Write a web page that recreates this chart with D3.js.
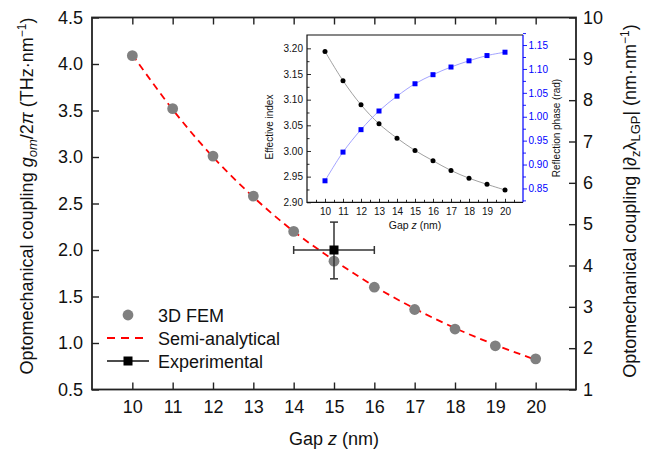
<!DOCTYPE html>
<html>
<head>
<meta charset="utf-8">
<script src="https://cdn.jsdelivr.net/npm/d3@7"></script>
<style>
  body { margin: 0; background: #fff; }
  svg { font-family: "Liberation Sans", Arial, Helvetica, sans-serif; }
</style>
</head>
<body>
<div id="chart"></div>
<script>
// main plot data
const gaps = [10, 11, 12, 13, 14, 15, 16, 17, 18, 19, 20];
const femValues = [4.09, 3.52, 3.01, 2.58, 2.20, 1.88, 1.60, 1.36, 1.15, 0.97, 0.83];
const semiValues = [4.10, 3.51, 3.00, 2.57, 2.20, 1.89, 1.61, 1.37, 1.16, 0.98, 0.82];
const expPoint = { x: 15, y: 2.0, xErr: 1.0, yLow: 1.69, yHigh: 2.30 };
const mainXTicks = [10, 11, 12, 13, 14, 15, 16, 17, 18, 19, 20];
const leftYTicks = [0.5, 1.0, 1.5, 2.0, 2.5, 3.0, 3.5, 4.0, 4.5];
const rightYTicks = [1, 2, 3, 4, 5, 6, 7, 8, 9, 10];

// inset data
const effIndex = [3.194, 3.137, 3.090, 3.053, 3.025, 3.001, 2.981, 2.962, 2.947, 2.935, 2.924];
const reflPhase = [0.866, 0.926, 0.973, 1.012, 1.043, 1.069, 1.088, 1.104, 1.117, 1.128, 1.135];
const insetLeftTicks = [2.90, 2.95, 3.00, 3.05, 3.10, 3.15, 3.20];
const insetRightTicks = [0.85, 0.90, 0.95, 1.00, 1.05, 1.10, 1.15];

const W = 653, H = 451;
const svg = d3.select("#chart").append("svg")
    .attr("width", W)
    .attr("height", H);

// ---------- main plot ----------
const x = d3.scaleLinear().domain([9, 21]).range([92, 576]);
const yL = d3.scaleLinear().domain([0.5, 4.5]).range([389.5, 17.5]);
const yR = d3.scaleLinear().domain([1, 10]).range([389.5, 17.5]);
const axisColor = "#222";
const tickFont = 18;

const gMain = svg.append("g");

gMain.append("g")
    .attr("class", "axis")
    .attr("transform", "translate(0," + yL.range()[0] + ")")
    .call(d3.axisBottom(x).tickValues(mainXTicks).tickSizeInner(-7).tickSizeOuter(0).tickPadding(11).tickFormat(d3.format("d")));
gMain.append("g")
    .attr("class", "axis")
    .attr("transform", "translate(0," + yL.range()[1] + ")")
    .call(d3.axisTop(x).tickValues(mainXTicks).tickSizeInner(-7).tickSizeOuter(0).tickFormat(""));
gMain.append("g")
    .attr("class", "axis")
    .attr("transform", "translate(" + x.range()[0] + ",0)")
    .call(d3.axisLeft(yL).tickValues(leftYTicks).tickSizeInner(-7).tickSizeOuter(0).tickPadding(9).tickFormat(d3.format(".1f")));
gMain.append("g")
    .attr("class", "axis")
    .attr("transform", "translate(" + x.range()[1] + ",0)")
    .call(d3.axisRight(yR).tickValues(rightYTicks).tickSizeInner(-7).tickSizeOuter(0).tickPadding(7).tickFormat(d3.format("d")));

gMain.selectAll(".axis path").remove();
gMain.selectAll(".axis line").attr("stroke", axisColor).attr("stroke-width", 1.4);
gMain.selectAll(".axis text").attr("font-size", tickFont).attr("fill", "#111");

gMain.append("rect")
    .attr("x", x.range()[0])
    .attr("y", yL.range()[1])
    .attr("width", x.range()[1] - x.range()[0])
    .attr("height", yL.range()[0] - yL.range()[1])
    .attr("fill", "none")
    .attr("stroke", axisColor)
    .attr("stroke-width", 1.8);

// axis titles
const xTitle = gMain.append("text")
    .attr("x", (x.range()[0] + x.range()[1]) / 2)
    .attr("y", 445)
    .attr("text-anchor", "middle")
    .attr("font-size", 18)
    .attr("fill", "#111");
xTitle.append("tspan").text("Gap ");
xTitle.append("tspan").attr("font-style", "italic").text("z");
xTitle.append("tspan").text(" (nm)");

const lTitle = gMain.append("text")
    .attr("transform", "translate(33,196) rotate(-90)")
    .attr("text-anchor", "middle")
    .attr("font-size", 18)
    .attr("fill", "#111");
lTitle.append("tspan").text("Optomechanical coupling ");
lTitle.append("tspan").attr("font-style", "italic").text("g");
lTitle.append("tspan").attr("font-style", "italic").attr("font-size", 13).attr("dy", 4).text("om");
lTitle.append("tspan").attr("dy", -4).text("/2");
lTitle.append("tspan").attr("font-style", "italic").text("π");
lTitle.append("tspan").text(" (THz·nm");
lTitle.append("tspan").attr("font-size", 12).attr("dy", -7).text("−1");
lTitle.append("tspan").attr("dy", 7).text(")");

const rTitle = gMain.append("text")
    .attr("transform", "translate(636,201) rotate(-90)")
    .attr("text-anchor", "middle")
    .attr("font-size", 18)
    .attr("fill", "#111");
rTitle.append("tspan").text("Optomechanical coupling |∂");
rTitle.append("tspan").attr("font-size", 13).attr("dy", 4).text("z");
rTitle.append("tspan").attr("dy", -4).text("λ");
rTitle.append("tspan").attr("font-size", 13).attr("dy", 4).text("LGP");
rTitle.append("tspan").attr("dy", -4).text("| (nm·nm");
rTitle.append("tspan").attr("font-size", 12).attr("dy", -7).text("−1");
rTitle.append("tspan").attr("dy", 7).text(")");

// semi-analytical dashed curve
const semiLine = d3.line()
    .x((d, i) => x(gaps[i]))
    .y(d => yL(d))
    .curve(d3.curveCatmullRom);
gMain.append("path")
    .datum(semiValues)
    .attr("d", semiLine)
    .attr("fill", "none")
    .attr("stroke", "#ff0000")
    .attr("stroke-width", 1.8)
    .attr("stroke-dasharray", "7,5");

// 3D FEM points
gMain.selectAll(".fem")
    .data(femValues)
    .enter()
    .append("circle")
    .attr("class", "fem")
    .attr("cx", (d, i) => x(gaps[i]))
    .attr("cy", d => yL(d))
    .attr("r", 5.4)
    .attr("fill", "#808080");

// experimental point with error bars
const eb = gMain.append("g").attr("stroke", "#333").attr("stroke-width", 1.5);
eb.append("line")
    .attr("x1", x(expPoint.x - expPoint.xErr)).attr("x2", x(expPoint.x + expPoint.xErr))
    .attr("y1", yL(expPoint.y)).attr("y2", yL(expPoint.y));
eb.append("line")
    .attr("x1", x(expPoint.x)).attr("x2", x(expPoint.x))
    .attr("y1", yL(expPoint.yLow)).attr("y2", yL(expPoint.yHigh));
[expPoint.x - expPoint.xErr, expPoint.x + expPoint.xErr].forEach(v => {
    eb.append("line")
        .attr("x1", x(v)).attr("x2", x(v))
        .attr("y1", yL(expPoint.y) - 4).attr("y2", yL(expPoint.y) + 4);
});
[expPoint.yLow, expPoint.yHigh].forEach(v => {
    eb.append("line")
        .attr("x1", x(expPoint.x) - 4).attr("x2", x(expPoint.x) + 4)
        .attr("y1", yL(v)).attr("y2", yL(v));
});
gMain.append("rect")
    .attr("x", x(expPoint.x) - 4.5)
    .attr("y", yL(expPoint.y) - 4.5)
    .attr("width", 9)
    .attr("height", 9)
    .attr("fill", "#000");

// legend
const legend = gMain.append("g").attr("font-size", 18).attr("fill", "#111");
legend.append("circle").attr("cx", 128).attr("cy", 315).attr("r", 5.4).attr("fill", "#808080");
legend.append("text").attr("x", 158).attr("y", 321.5).text("3D FEM");
legend.append("line")
    .attr("x1", 107).attr("x2", 149).attr("y1", 338).attr("y2", 338)
    .attr("stroke", "#ff0000").attr("stroke-width", 1.8).attr("stroke-dasharray", "8,6");
legend.append("text").attr("x", 158).attr("y", 344.5).text("Semi-analytical");
legend.append("line")
    .attr("x1", 107).attr("x2", 149).attr("y1", 361).attr("y2", 361)
    .attr("stroke", "#111").attr("stroke-width", 1.3);
legend.append("rect").attr("x", 123.5).attr("y", 356.5).attr("width", 9).attr("height", 9).attr("fill", "#000");
legend.append("text").attr("x", 158).attr("y", 367.5).text("Experimental");

// ---------- inset ----------
const xi = d3.scaleLinear().domain([9, 21]).range([307, 523]);
const yiL = d3.scaleLinear().domain([2.9, 3.226]).range([202.3, 35]);
const yiR = d3.scaleLinear().domain([0.821, 1.171]).range([202.3, 35]);
const blue = "#0000ff";

const gIn = svg.append("g");
const fs = 10;

// left axis: inward ticks, majors + minors
gIn.append("g")
    .attr("class", "iaxis")
    .attr("transform", "translate(" + xi.range()[0] + ",0)")
    .call(d3.axisLeft(yiL).tickValues(insetLeftTicks).tickSizeInner(-4).tickSizeOuter(0).tickPadding(4).tickFormat(d3.format(".2f")));
gIn.append("g")
    .attr("class", "iaxis")
    .attr("transform", "translate(" + xi.range()[0] + ",0)")
    .call(d3.axisLeft(yiL).tickValues(insetLeftTicks.slice(0, -1).map(v => v + 0.025)).tickSizeInner(-2.5).tickSizeOuter(0).tickFormat(""));
// bottom axis
gIn.append("g")
    .attr("class", "iaxis")
    .attr("transform", "translate(0," + yiL.range()[0] + ")")
    .call(d3.axisBottom(xi).tickValues(mainXTicks).tickSizeInner(-3.5).tickSizeOuter(0).tickPadding(6).tickFormat(d3.format("d")));
gIn.append("g")
    .attr("class", "iaxis")
    .attr("transform", "translate(0," + yiL.range()[0] + ")")
    .call(d3.axisBottom(xi).tickValues(mainXTicks.map(v => v + 0.5).concat([9.5])).tickSizeInner(-2.5).tickSizeOuter(0).tickFormat(""));
gIn.selectAll(".iaxis path").remove();
gIn.selectAll(".iaxis line").attr("stroke", "#111").attr("stroke-width", 0.9);
gIn.selectAll(".iaxis text").attr("font-size", fs).attr("fill", "#111");

// right axis (blue), outward ticks
gIn.append("g")
    .attr("class", "raxis")
    .attr("transform", "translate(" + xi.range()[1] + ",0)")
    .call(d3.axisRight(yiR).tickValues(insetRightTicks).tickSizeInner(4).tickSizeOuter(0).tickPadding(1.5).tickFormat(d3.format(".2f")));
gIn.append("g")
    .attr("class", "raxis")
    .attr("transform", "translate(" + xi.range()[1] + ",0)")
    .call(d3.axisRight(yiR).tickValues([0.825].concat(insetRightTicks.map(v => v + 0.025))).tickSizeInner(3).tickSizeOuter(0).tickFormat(""));
gIn.selectAll(".raxis path").remove();
gIn.selectAll(".raxis line").attr("stroke", blue).attr("stroke-width", 0.9);
gIn.selectAll(".raxis text").attr("font-size", fs).attr("fill", blue);

// inset frame: black box, blue right edge
const fx0 = xi.range()[0], fx1 = xi.range()[1], fy0 = yiL.range()[1], fy1 = yiL.range()[0];
gIn.append("path")
    .attr("d", "M" + fx1 + "," + fy0 + "H" + fx0 + "V" + fy1 + "H" + fx1)
    .attr("fill", "none").attr("stroke", "#111").attr("stroke-width", 1.2);
gIn.append("line")
    .attr("x1", fx1).attr("x2", fx1).attr("y1", fy0).attr("y2", fy1)
    .attr("stroke", blue).attr("stroke-width", 1.2);

// inset titles
const giTitle = gIn.append("text")
    .attr("x", 415).attr("y", 229)
    .attr("text-anchor", "middle").attr("font-size", 10.5).attr("fill", "#111");
giTitle.append("tspan").text("Gap ");
giTitle.append("tspan").attr("font-style", "italic").text("z");
giTitle.append("tspan").text(" (nm)");

gIn.append("text")
    .attr("transform", "translate(273,127) rotate(-90)")
    .attr("text-anchor", "middle").attr("font-size", 10).attr("fill", "#111")
    .text("Effective index");
gIn.append("text")
    .attr("transform", "translate(560,128) rotate(-90)")
    .attr("text-anchor", "middle").attr("font-size", 10).attr("fill", "#111")
    .text("Reflection phase (rad)");

// inset series
const effLine = d3.line().x((d, i) => xi(gaps[i])).y(d => yiL(d)).curve(d3.curveCatmullRom);
const phaseLine = d3.line().x((d, i) => xi(gaps[i])).y(d => yiR(d)).curve(d3.curveCatmullRom);

gIn.append("path").datum(effIndex).attr("d", effLine)
    .attr("fill", "none").attr("stroke", "#888").attr("stroke-width", 0.8);
gIn.append("path").datum(reflPhase).attr("d", phaseLine)
    .attr("fill", "none").attr("stroke", "#8c8cff").attr("stroke-width", 0.8);

gIn.selectAll(".eff")
    .data(effIndex)
    .enter()
    .append("circle")
    .attr("class", "eff")
    .attr("cx", (d, i) => xi(gaps[i]))
    .attr("cy", d => yiL(d))
    .attr("r", 2.5)
    .attr("fill", "#000");

gIn.selectAll(".phase")
    .data(reflPhase)
    .enter()
    .append("rect")
    .attr("class", "phase")
    .attr("x", (d, i) => xi(gaps[i]) - 2.5)
    .attr("y", d => yiR(d) - 2.5)
    .attr("width", 5)
    .attr("height", 5)
    .attr("fill", blue);
</script>
</body>
</html>
